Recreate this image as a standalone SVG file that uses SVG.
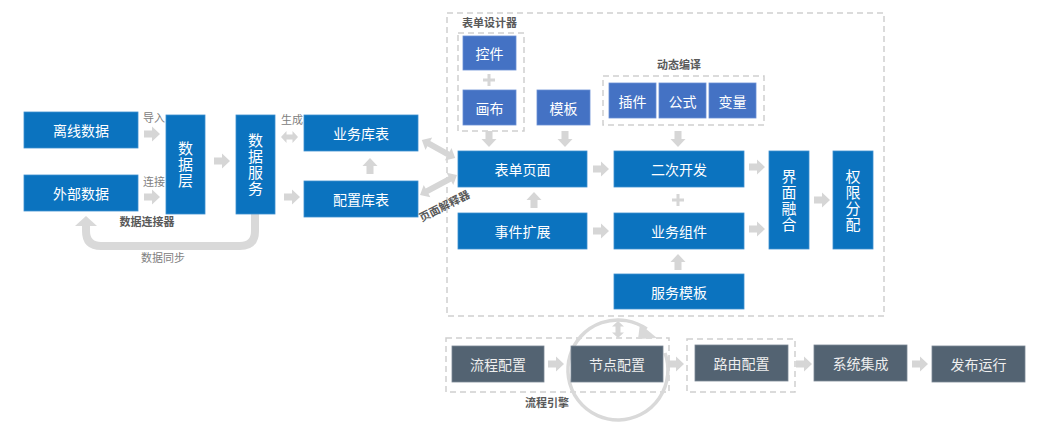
<svg xmlns="http://www.w3.org/2000/svg" xmlns:xlink="http://www.w3.org/1999/xlink" width="1039" height="432" viewBox="0 0 1039 432">
<style>
text{font-family:"Noto Sans CJK SC","Liberation Sans",sans-serif;}
.b{fill:#0B73BF;stroke:#3d8fd0;stroke-width:0.8;}
.lb{fill:#4472C4;stroke:#6a8fd4;stroke-width:0.8;}
.s{fill:#536372;stroke:#7a8794;stroke-width:0.8;}
.t{fill:#ffffff;font-size:14px;text-anchor:middle;dominant-baseline:central;}
.ts{fill:#eeeeee;font-size:14px;text-anchor:middle;dominant-baseline:central;}
.tv{fill:#ffffff;font-size:15px;text-anchor:middle;writing-mode:vertical-rl;letter-spacing:1px;}
.dash{fill:none;stroke:#cfcfcf;stroke-width:1.5;stroke-dasharray:6 4;}
.lab{fill:#808080;font-size:11px;}
.hd{fill:#595959;font-size:11px;font-weight:bold;}
.ar{fill:#d6d6d6;}
</style>
<defs>
<path id="ra" d="M-8,-3.5 H0 V-7.5 L8,0 L0,7.5 V3.5 H-8 Z"/>
<path id="plus" d="M-1.5,-6 H1.5 V-1.5 H6 V1.5 H1.5 V6 H-1.5 V1.5 H-6 V-1.5 H-1.5 Z"/>
<path id="dbl17" d="M-8.5,0 L-3,-6 V-2.5 H3 V-6 L8.5,0 L3,6 V2.5 H-3 V6 Z"/>
<path id="dbl38" d="M-19,0 L-11,-7 V-3 H11 V-7 L19,0 L11,7 V3 H-11 V7 Z"/>
<path id="dbl42" d="M-21,0 L-13,-7 V-3 H13 V-7 L21,0 L13,7 V3 H-13 V7 Z"/>
</defs>
<rect width="1039" height="432" fill="#ffffff"/>

<!-- containers -->
<g id="form-area">
<rect class="dash" x="447" y="13" width="437" height="303"/>
</g>
<g id="form-designer">
<rect class="dash" x="458" y="33" width="66" height="98"/>
<text class="hd" x="462" y="27">表单设计器</text>
</g>
<g id="dynamic-compile">
<rect class="dash" x="603" y="76" width="161" height="49"/>
<text class="hd" x="679" y="69" text-anchor="middle">动态编译</text>
</g>
<g id="flow-engine">
<rect class="dash" x="446" y="338" width="223" height="54"/>
<text class="hd" x="547" y="407" text-anchor="middle">流程引擎</text>
</g>
<g id="route-area">
<rect class="dash" x="687" y="339" width="108" height="53"/>
</g>

<!-- connectors -->
<g id="connectors">
<path d="M255,214 V231 Q255,246 240,246 H101 Q86,246 86,231 V225" fill="none" stroke="#d9d9d9" stroke-width="8"/>
<polygon points="75,226 86,216 97,226" fill="#d9d9d9"/>
<text class="lab" x="163" y="262" text-anchor="middle">数据同步</text>
<path d="M665,353 A50,50 0 1 1 646.7,329" fill="none" stroke="#d9d9d9" stroke-width="3.5"/>
<polygon points="640,324 657,338 638,339" fill="#d9d9d9"/>
<use href="#ra" class="ar" transform="translate(152,134)"/>
<use href="#ra" class="ar" transform="translate(152,197)"/>
<use href="#ra" class="ar" transform="translate(222,161)"/>
<use href="#ra" class="ar" transform="translate(292,197)"/>
<use href="#dbl17" class="ar" transform="translate(289.5,137)"/>
<use href="#ra" class="ar" transform="translate(370,166) rotate(-90)"/>
<use href="#dbl38" class="ar" transform="translate(438.5,149) rotate(28.6)"/>
<use href="#dbl42" class="ar" transform="translate(438.5,185) rotate(-28.4)"/>
<use href="#plus" class="ar" transform="translate(489,80)"/>
<use href="#ra" class="ar" transform="translate(489,139) rotate(90)"/>
<use href="#ra" class="ar" transform="translate(565,139) rotate(90)"/>
<use href="#ra" class="ar" transform="translate(678,139) rotate(90)"/>
<use href="#ra" class="ar" transform="translate(601,169)"/>
<use href="#ra" class="ar" transform="translate(601,231)"/>
<use href="#ra" class="ar" transform="translate(534,200) rotate(-90)"/>
<use href="#plus" class="ar" transform="translate(678,200)"/>
<use href="#ra" class="ar" transform="translate(678,262) rotate(-90)"/>
<use href="#ra" class="ar" transform="translate(757,167)"/>
<use href="#ra" class="ar" transform="translate(757,229)"/>
<use href="#ra" class="ar" transform="translate(822,200)"/>
<use href="#ra" class="ar" transform="translate(556,364)"/>
<use href="#dbl17" class="ar" transform="translate(618,329.5) rotate(90)"/>
<use href="#ra" class="ar" transform="translate(676,364)"/>
<use href="#ra" class="ar" transform="translate(804,364)"/>
<use href="#ra" class="ar" transform="translate(920,364)"/>
<text class="lab" x="143" y="122">导入</text>
<text class="lab" x="143" y="186">连接</text>
<text class="lab" x="281" y="124">生成</text>
<text class="hd" x="147" y="226" text-anchor="middle">数据连接器</text>
<text class="hd" x="0" y="0" text-anchor="middle" dominant-baseline="central" transform="translate(444,205) rotate(-27)">页面解释器</text>
</g>

<!-- nodes -->
<g id="offline-data"><rect class="b" x="24" y="112" width="114" height="36"/><text class="t" x="81" y="130">离线数据</text></g>
<g id="external-data"><rect class="b" x="24" y="175" width="114" height="36"/><text class="t" x="81" y="193">外部数据</text></g>
<g id="data-layer"><rect class="b" x="166" y="115" width="39" height="99"/>
<text class="tv" x="185.5" y="165">数据层</text></g>
<g id="data-service"><rect class="b" x="236" y="115" width="39" height="99"/>
<text class="tv" x="255.5" y="165">数据服务</text></g>
<g id="biz-table"><rect class="b" x="304" y="115" width="114" height="36"/><text class="t" x="361" y="133">业务库表</text></g>
<g id="config-table"><rect class="b" x="304" y="181" width="114" height="36"/><text class="t" x="361" y="199">配置库表</text></g>

<g id="control"><rect class="lb" x="463" y="36" width="53" height="34"/><text class="t" x="489.5" y="53">控件</text></g>
<g id="canvas"><rect class="lb" x="463" y="90" width="53" height="35"/><text class="t" x="489.5" y="107.5">画布</text></g>
<g id="template"><rect class="lb" x="537" y="90" width="53" height="35"/><text class="t" x="563.5" y="107.5">模板</text></g>
<g id="plugin"><rect class="lb" x="609" y="83" width="47" height="35"/><text class="t" x="632.5" y="100.5">插件</text></g>
<g id="formula"><rect class="lb" x="659" y="83" width="47" height="35"/><text class="t" x="682.5" y="100.5">公式</text></g>
<g id="variable"><rect class="lb" x="709" y="83" width="47" height="35"/><text class="t" x="732.5" y="100.5">变量</text></g>

<g id="form-page"><rect class="b" x="458" y="151" width="129" height="36"/><text class="t" x="522.5" y="169">表单页面</text></g>
<g id="secondary-dev"><rect class="b" x="614" y="151" width="130" height="36"/><text class="t" x="679" y="169">二次开发</text></g>
<g id="event-ext"><rect class="b" x="458" y="213" width="129" height="36"/><text class="t" x="522.5" y="231">事件扩展</text></g>
<g id="biz-component"><rect class="b" x="614" y="213" width="130" height="36"/><text class="t" x="679" y="231">业务组件</text></g>
<g id="service-template"><rect class="b" x="614" y="274" width="130" height="35"/><text class="t" x="679" y="291.5">服务模板</text></g>
<g id="ui-fusion"><rect class="b" x="769" y="151" width="40" height="98"/>
<text class="tv" x="789" y="200.5">界面融合</text></g>
<g id="permission"><rect class="b" x="833" y="151" width="40" height="98"/>
<text class="tv" x="853" y="200.5">权限分配</text></g>

<g id="flow-config"><rect class="s" x="452" y="346" width="92" height="36"/><text class="ts" x="498" y="364">流程配置</text></g>
<g id="node-config"><rect class="s" x="571" y="346" width="92" height="36"/><text class="ts" x="617" y="364">节点配置</text></g>
<g id="route-config"><rect class="s" x="695" y="345" width="93" height="36"/><text class="ts" x="741.5" y="363">路由配置</text></g>
<g id="sys-integration"><rect class="s" x="814" y="345" width="93" height="36"/><text class="ts" x="860.5" y="363">系统集成</text></g>
<g id="publish-run"><rect class="s" x="932" y="346" width="93" height="36"/><text class="ts" x="978.5" y="364">发布运行</text></g>
</svg>
